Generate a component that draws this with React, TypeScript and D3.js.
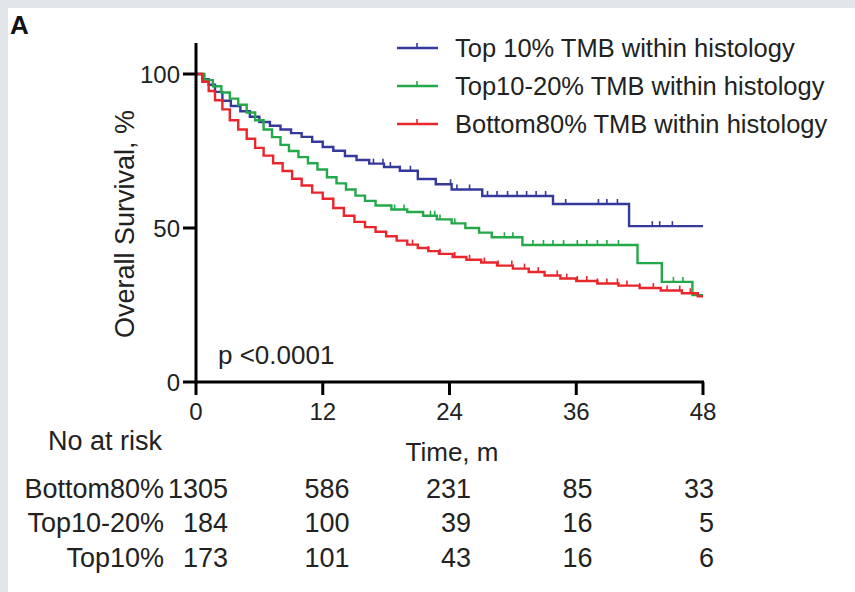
import React from "react";
import * as d3 from "d3";

// Kaplan–Meier overall survival by TMB group within histology
const monthTicks = [0, 12, 24, 36, 48];
const survivalTicks = [0, 50, 100];

const legendLabels = [
  "Top 10% TMB within histology",
  "Top10-20% TMB within histology",
  "Bottom80% TMB within histology",
];
const seriesColors = ["#34399a", "#23a84a", "#e8262b"];

// step points: [month, survival %]
const top10Steps: [number, number][] = [
  [0, 100], [0.6, 98.3], [1.2, 96.5], [1.8, 94.2], [2.5, 91.3], [3.3, 89.6],
  [4.2, 87.9], [5.1, 86.1], [6.0, 84.4], [7.0, 83.2], [8.0, 82.0], [9.0, 80.8],
  [10.0, 79.6], [11.0, 78.0], [12.0, 76.3], [13.0, 75.1], [14.1, 73.4],
  [15.2, 72.1], [16.4, 70.9], [17.8, 69.8], [19.3, 68.6], [21.0, 65.9],
  [22.7, 64.2], [24.2, 62.5], [27.1, 60.4], [33.8, 57.8], [41.0, 50.6],
];
const top10to20Steps: [number, number][] = [
  [0, 100], [0.8, 98.0], [1.6, 96.0], [2.4, 94.0], [3.2, 92.0], [4.0, 90.0],
  [4.8, 87.5], [5.6, 85.0], [6.4, 82.0], [7.2, 79.5], [8.0, 77.0], [8.8, 75.0],
  [9.7, 73.0], [10.6, 71.0], [11.5, 69.0], [12.4, 66.5], [13.3, 64.5],
  [14.2, 62.5], [15.1, 60.5], [16.0, 58.8], [17.0, 57.3], [18.5, 56.0],
  [20.0, 55.2], [21.5, 54.0], [22.8, 52.8], [24.2, 51.5], [25.5, 50.0],
  [26.8, 48.5], [28.0, 47.0], [30.9, 44.5], [41.8, 38.6], [44.1, 32.5],
  [47.0, 28.2],
];
const bottom80Steps: [number, number][] = [
  [0, 100], [0.6, 97.5], [1.2, 94.5], [1.8, 91.5], [2.5, 88.5], [3.2, 85.0],
  [4.0, 82.0], [4.8, 79.0], [5.6, 76.0], [6.4, 73.5], [7.3, 71.0], [8.2, 68.5],
  [9.1, 66.0], [10.0, 63.8], [11.0, 61.5], [12.0, 59.5], [13.0, 56.5],
  [14.0, 54.0], [15.0, 52.0], [16.0, 50.3], [17.0, 48.8], [18.0, 47.3],
  [19.0, 45.9], [20.0, 44.6], [21.0, 43.5], [22.0, 42.5], [23.0, 41.6],
  [24.3, 40.6], [25.6, 39.7], [27.0, 38.8], [28.5, 37.8], [30.0, 36.8],
  [31.5, 35.7], [33.0, 34.6], [34.5, 33.6], [36.0, 32.8], [38.0, 32.0],
  [40.0, 31.3], [42.0, 30.5], [44.0, 29.7], [46.0, 28.8], [47.5, 27.8],
];

// censoring times (months)
const top10Censored = [16.8, 17.7, 18.4, 19.3, 20.3, 24.1, 24.7, 25.9, 27.6, 28.5, 29.5, 30.4, 31.3, 32.2, 33.1, 35.0, 38.1, 38.9, 39.9, 43.2, 43.9, 45.1];
const top10to20Censored = [18.8, 19.7, 22.2, 22.6, 23.1, 24.5, 29.2, 30.0, 31.9, 32.9, 33.8, 34.8, 36.1, 37.0, 38.0, 38.9, 40.0, 45.2, 46.1];
const bottom80Censored = [20.5, 22.0, 23.1, 24.5, 25.9, 27.3, 28.6, 29.9, 31.1, 32.4, 34.2, 35.1, 36.1, 37.0, 38.0, 38.9, 39.9, 40.8, 42.0, 43.3, 44.6, 45.8, 46.8];

// number at risk
const riskGroups = ["Bottom80%", "Top10-20%", "Top10%"];
const atRiskBottom80 = [1305, 586, 231, 85, 33];
const atRiskTop10to20 = [184, 100, 39, 16, 5];
const atRiskTop10 = [173, 101, 43, 16, 6];

const W = 855;
const H = 592;
const FONT = "'Liberation Sans', Arial, Helvetica, sans-serif";
const maxMonth = 48;

export default function App() {
  const x = d3.scaleLinear().domain([0, 48]).range([196, 703]);
  const y = d3.scaleLinear().domain([0, 100]).range([382, 74]);
  const riskX = d3.scaleLinear().domain([0, 48]).range([228, 714]);

  const series = [
    { steps: top10Steps, censored: top10Censored, color: seriesColors[0] },
    { steps: top10to20Steps, censored: top10to20Censored, color: seriesColors[1] },
    { steps: bottom80Steps, censored: bottom80Censored, color: seriesColors[2] },
  ];

  const line = d3
    .line<[number, number]>()
    .x((d) => x(d[0]))
    .y((d) => y(d[1]))
    .curve(d3.curveStepAfter);

  const survivalAt = (steps: [number, number][], t: number) => {
    let s = steps[0][1];
    for (const [m, v] of steps) if (m <= t) s = v;
    return s;
  };

  const riskRows = [atRiskBottom80, atRiskTop10to20, atRiskTop10];
  const rowY = [488, 522, 557];
  const legendY = [48, 86, 124];

  return (
    <svg
      width={W}
      height={H}
      viewBox={`0 0 ${W} ${H}`}
      style={{ position: "absolute", left: 0, top: 0, background: "#ffffff" }}
      fontFamily={FONT}
    >
      <rect x={0} y={0} width={W} height={H} fill="#ffffff" />
      <rect x={0} y={0} width={W} height={8} fill="#e2e6eb" />
      <rect x={0} y={0} width={8} height={H} fill="#e2e6eb" />

      <text x={10} y={34} fontSize={26} fontWeight="bold" fill="#111">A</text>

      {/* survival curves */}
      {series.map((s, i) => {
        const pts: [number, number][] = [...s.steps, [maxMonth, s.steps[s.steps.length - 1][1]]];
        return (
          <g key={i}>
            <path d={line(pts) || ""} fill="none" stroke={s.color} strokeWidth={2.4} />
            {s.censored.map((t, j) => {
              const cy = y(survivalAt(s.steps, t));
              return (
                <line key={j} x1={x(t)} x2={x(t)} y1={cy} y2={cy - 5} stroke={s.color} strokeWidth={1.6} />
              );
            })}
          </g>
        );
      })}

      {/* y axis */}
      <line x1={196} x2={196} y1={43} y2={383.5} stroke="#000" strokeWidth={3} />
      {survivalTicks.map((v) => (
        <g key={v}>
          <line x1={183} x2={196} y1={y(v)} y2={y(v)} stroke="#000" strokeWidth={3} />
          <text x={180} y={y(v)} dy="0.36em" textAnchor="end" fontSize={24} fill="#222">{v}</text>
        </g>
      ))}
      <text
        transform={`translate(134, ${y(50) - 4}) rotate(-90)`}
        textAnchor="middle"
        fontSize={27}
        fill="#222"
      >
        Overall Survival, %
      </text>

      {/* x axis */}
      <line x1={194.5} x2={704} y1={382} y2={382} stroke="#000" strokeWidth={3} />
      {monthTicks.map((m) => (
        <g key={m}>
          <line x1={x(m)} x2={x(m)} y1={382} y2={395} stroke="#000" strokeWidth={3} />
          <text x={x(m)} y={411} dy="0.36em" textAnchor="middle" fontSize={24} fill="#222">{m}</text>
        </g>
      ))}
      <text x={452} y={452} dy="0.36em" textAnchor="middle" fontSize={26} fill="#222">Time, m</text>

      <text x={218} y={355} dy="0.36em" fontSize={26} fill="#222">p &lt;0.0001</text>

      {/* legend */}
      {legendLabels.map((lab, i) => (
        <g key={lab}>
          <line x1={397} x2={438} y1={legendY[i]} y2={legendY[i]} stroke={seriesColors[i]} strokeWidth={2.4} />
          <line x1={417} x2={417} y1={legendY[i]} y2={legendY[i] - 5} stroke={seriesColors[i]} strokeWidth={1.6} />
          <text x={455} y={legendY[i]} dy="0.36em" fontSize={25.5} fill="#222">{lab}</text>
        </g>
      ))}

      {/* number at risk table */}
      <text x={48} y={440} dy="0.36em" fontSize={27} fill="#222">No at risk</text>
      {riskGroups.map((g, r) => (
        <g key={g}>
          <text x={164} y={rowY[r]} dy="0.36em" textAnchor="end" fontSize={27} fill="#222">{g}</text>
          {riskRows[r].map((n, c) => (
            <text key={c} x={riskX(monthTicks[c])} y={rowY[r]} dy="0.36em" textAnchor="end" fontSize={27} fill="#222">
              {n}
            </text>
          ))}
        </g>
      ))}
    </svg>
  );
}
